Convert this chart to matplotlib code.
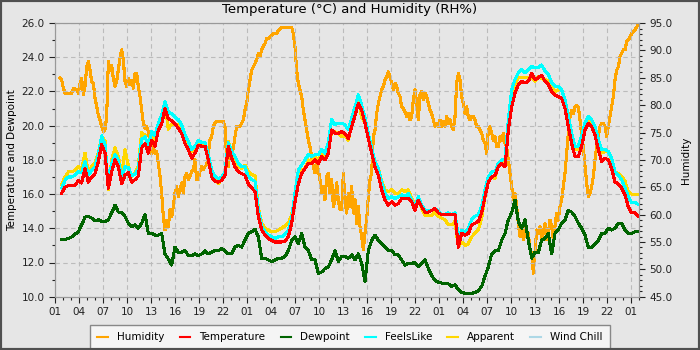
import matplotlib
matplotlib.use("Agg")
import matplotlib.pyplot as plt
import matplotlib.dates as md
from matplotlib.patches import Rectangle
from matplotlib.ticker import MultipleLocator, FormatStrFormatter
import pandas as pd

# humidity is logged every 12.5 min, the temperature family every 25 min
humidity = [
    84.9, 84.6, 83.1, 82.2, 82.2, 82.2, 82.2, 82.2, 83.0, 83.0,
    82.8, 82.2, 84.0, 84.9, 81.9, 83.4, 87.0, 88.0, 86.4, 84.3,
    84.0, 81.3, 79.7, 78.2, 77.3, 76.1, 75.2, 75.5, 77.9, 88.0,
    86.4, 87.3, 84.9, 83.4, 84.3, 86.4, 88.6, 90.1, 88.3, 84.3,
    83.4, 84.9, 83.7, 84.6, 83.1, 85.8, 85.8, 83.4, 81.6, 79.1,
    76.7, 75.8, 76.1, 75.2, 73.0, 71.2, 72.4, 71.2, 71.5, 69.4,
    67.0, 63.9, 59.6, 57.2, 59.0, 57.8, 60.9, 59.6, 61.5, 63.9,
    65.1, 63.3, 64.5, 65.8, 63.9, 67.0, 67.6, 66.4, 67.0, 67.9,
    68.2, 70.0,
    66.4, 66.4, 67.9, 68.8, 68.2, 68.8, 69.1, 71.2, 73.6, 74.3,
    76.1, 76.7, 77.0, 77.0, 77.0, 77.0, 77.0, 76.1, 70.0, 68.8,
    72.4, 71.2, 72.1, 74.3, 76.1, 76.1, 76.1, 76.7, 77.3, 79.1,
    80.3, 82.8, 84.6, 86.4, 87.0, 87.6, 88.3, 89.5, 88.9, 90.1,
    90.7, 91.3, 92.2, 92.2, 92.5, 92.8, 93.1, 93.1, 93.1, 93.7,
    94.0, 94.2, 94.2, 94.2, 94.2, 94.2, 94.2, 94.2, 93.1, 90.7,
    86.4, 84.0, 82.8, 81.6, 79.1, 77.3, 75.5, 73.6, 72.4, 70.6,
    68.8, 67.6, 69.4, 68.2, 66.4, 63.9, 65.1, 62.7, 67.0, 67.6,
    63.9, 66.4, 61.5, 62.7, 65.8, 62.7, 60.9,
    60.9, 67.6, 62.7, 60.3, 63.9, 61.5, 65.1, 60.3, 62.7, 58.4,
    61.5, 57.8, 56.0, 53.6, 56.6, 59.0, 63.3, 66.4, 67.6, 74.3,
    75.5, 78.5, 80.3, 81.6, 82.8, 83.4, 84.6, 85.2, 86.1, 85.2,
    84.0, 82.8, 84.0, 83.4, 82.2, 81.6, 79.7, 79.4, 78.8, 77.9,
    78.5, 77.3, 77.9, 81.0, 82.8, 80.3, 77.3, 81.9, 82.5, 81.0,
    82.2, 81.6, 80.3, 79.1, 78.5, 77.3, 76.1, 76.7, 76.1, 77.3,
    76.1, 77.0, 76.1, 77.9, 76.7, 77.3, 76.1, 75.5, 77.9, 84.0,
    85.8, 84.6, 81.6, 80.3, 78.5, 79.7, 77.9, 77.3, 77.9, 77.9,
    77.3, 76.1, 76.1, 75.5, 74.9, 73.6, 73.0,
    71.2, 75.5, 76.1, 74.9, 73.6, 74.3, 72.4, 72.4, 74.3, 73.6,
    74.9, 73.0, 72.4, 70.0, 67.6, 65.1, 62.7, 63.9, 61.5, 58.4,
    56.0, 57.8, 55.4, 58.4, 56.0, 56.6, 53.6, 53.0, 49.3, 53.0,
    57.2, 56.6, 57.8, 55.4, 56.6, 58.4, 55.4, 56.6, 59.0, 57.8,
    55.4, 57.8, 60.3, 59.0, 61.5, 62.7, 65.1, 67.6, 71.2, 74.9,
    77.9, 79.1, 78.5, 79.7, 80.0, 79.7, 77.3, 74.6, 72.4, 68.8,
    65.8, 63.3, 63.9, 65.1, 67.0, 70.0, 72.4, 74.3, 76.1, 76.7,
    76.7, 76.1, 74.3, 76.1, 77.9, 79.7, 81.6, 84.6, 86.4, 87.0,
    88.9, 89.5, 90.1, 90.1, 91.6, 91.9, 92.5, 93.1, 93.4, 93.7,
    94.3, 94.65,
]

temperature = [
    16.05, 16.4, 16.5, 16.5, 16.5, 16.8, 16.65, 17.5, 16.7, 17.0,
    17.2, 17.9, 18.9, 18.4, 16.35, 17.3, 18.0, 17.6, 16.6, 17.1,
    17.25, 16.7, 16.85, 17.05, 18.7, 18.95, 18.4, 19.15, 18.8, 19.75,
    20.1, 21.0, 20.4, 20.3, 20.1, 19.85, 19.55, 18.95, 18.6, 18.1,
    18.4, 18.85, 18.8, 18.8, 18.0, 17.0, 16.75, 16.7, 16.8, 17.1,
    18.8, 18.1, 17.6, 17.3, 17.2, 17.1, 16.6, 16.35, 16.15, 14.7,
    13.9, 13.6, 13.4, 13.3, 13.2, 13.2, 13.2, 13.25, 13.5, 14.3,
    15.55, 16.6, 17.2, 17.5, 17.8, 17.8, 18.0, 17.8, 18.2, 18.0,
    18.4, 19.75, 19.55, 19.55,
    19.65, 19.55, 19.25, 19.95, 20.6, 21.3, 20.9, 20.15, 19.25, 18.4,
    17.6, 17.1, 16.25, 15.65, 15.35, 15.55, 15.35, 15.45, 15.75, 15.75,
    15.75, 15.55, 15.05, 15.65, 15.25, 14.95, 14.95, 15.05, 15.15, 14.9,
    14.8, 14.8, 14.8, 14.8, 14.8, 12.9, 13.7, 13.6, 13.7, 14.2,
    14.3, 14.4, 14.9, 15.85,
    16.7, 17.0, 17.1, 17.6, 17.8, 17.6, 19.75, 21.1, 21.9, 22.4,
    22.6, 22.5, 22.6, 23.05, 22.7, 22.8, 22.95, 22.6, 22.4, 22.0,
    21.8, 21.7, 21.6, 21.0, 19.95, 18.95, 18.2, 18.2, 18.8, 19.75,
    20.15, 19.95, 19.45, 18.6, 17.9, 18.1, 18.0, 17.5, 16.7, 16.6,
    16.35, 15.95, 15.25, 14.9, 14.9, 14.7,
]

feels_like = [
    16.35, 16.8, 17.0, 17.0, 17.1, 17.3, 17.25, 17.9, 17.1, 17.4,
    17.6, 18.3, 19.4, 18.9, 16.45, 17.8, 18.3, 18.0, 16.9, 17.6,
    17.55, 17.1, 17.15, 17.45, 19.2, 19.35, 18.8, 19.65, 19.4, 20.15,
    20.6, 21.4, 20.8, 20.7, 20.5, 20.35, 20.05, 19.45, 19.1, 18.6,
    18.8, 19.15, 19.0, 19.0, 18.3, 17.4, 17.05, 16.9, 17.0, 17.3,
    19.0, 18.5, 18.2, 17.8, 17.6, 17.6, 17.0, 16.85, 16.75, 15.1,
    14.1, 13.8, 13.6, 13.5, 13.4, 13.5, 13.5, 13.65, 13.9, 14.6,
    16.05, 17.4, 17.7, 18.0, 18.3, 18.2, 18.3, 18.3, 18.6, 18.4,
    19.0, 20.35, 20.05, 20.15,
    20.15, 20.05, 19.75, 20.45, 21.1, 21.8, 21.2, 20.45, 19.55, 18.7,
    17.9, 17.5, 16.65, 16.05, 15.75, 15.85, 15.75, 15.85, 15.95, 15.85,
    16.05, 15.65, 15.25, 15.85, 15.35, 15.05, 15.05, 15.05, 15.15, 15.0,
    14.8, 14.8, 14.9, 14.8, 14.9, 13.4, 13.9, 13.8, 14.0, 14.5,
    14.7, 14.8, 15.3, 16.25,
    17.0, 17.3, 17.3, 17.8, 18.0, 18.0, 20.35, 22.1, 22.7, 23.1,
    23.3, 23.1, 23.3, 23.45, 23.4, 23.4, 23.55, 23.2, 23.0, 22.5,
    22.3, 22.3, 22.1, 21.5, 20.55, 19.55, 18.8, 18.8, 19.4, 20.15,
    20.55, 20.35, 19.95, 19.2, 18.6, 18.6, 18.5, 18.1, 17.3, 17.1,
    16.85, 16.35, 15.85, 15.5, 15.5, 15.4,
]

apparent = [
    16.55, 17.0, 17.3, 17.3, 17.4, 17.6, 17.45, 18.4, 17.3, 17.6,
    17.8, 18.4, 19.4, 19.1, 16.25, 18.0, 18.7, 18.2, 17.1, 18.6,
    17.65, 17.0, 17.25, 17.65, 19.6, 19.45, 18.6, 19.45, 19.1, 20.05,
    20.5, 21.2, 19.8, 20.1, 20.1, 20.05, 19.85, 19.25, 19.0, 18.5,
    18.8, 19.05, 18.9, 18.9, 18.2, 17.3, 16.95, 16.6, 16.9, 17.3,
    19.1, 18.4, 18.0, 17.6, 17.5, 17.7, 17.3, 17.15, 17.05, 15.2,
    14.3, 14.0, 13.9, 13.8, 13.8, 13.9, 14.0, 14.15, 14.3, 14.8,
    15.85, 17.0, 17.4, 17.5, 18.0, 17.9, 18.2, 18.0, 18.4, 18.2,
    18.5, 19.65, 19.65, 19.55,
    19.35, 19.45, 19.15, 20.05, 20.9, 21.5, 20.5, 20.15, 19.35, 18.6,
    17.9, 17.5, 16.75, 16.25, 16.15, 16.25, 16.05, 16.05, 16.25, 16.15,
    16.25, 15.75, 15.35, 15.75, 15.15, 14.75, 14.75, 14.75, 14.95, 14.7,
    14.6, 14.5, 14.2, 14.2, 14.4, 12.9, 13.2, 13.0, 13.1, 13.5,
    13.7, 13.9, 14.6, 15.85,
    16.8, 17.0, 16.9, 17.7, 17.8, 17.9, 20.35, 21.7, 22.4, 22.8,
    22.8, 22.8, 22.8, 22.85, 22.6, 22.9, 22.75, 22.7, 22.6, 22.2,
    22.0, 22.1, 22.1, 21.4, 20.25, 19.25, 18.6, 18.6, 19.2, 20.05,
    20.35, 20.25, 19.75, 19.0, 18.4, 18.5, 18.5, 18.0, 17.3, 17.2,
    17.05, 16.75, 16.15, 16.0, 16.0, 16.0,
]

dewpoint = [
    13.35, 13.35, 13.4, 13.5, 13.65, 13.8, 14.2, 14.65, 14.7, 14.6,
    14.45, 14.5, 14.4, 14.4, 14.5, 14.9, 15.35, 14.95, 14.9, 14.7,
    14.3, 14.1, 14.2, 14.0, 14.3, 14.8, 13.7, 13.7, 13.6, 13.6,
    13.7, 12.5, 12.2, 11.85, 12.9, 12.6, 12.6, 12.7, 12.4, 12.4,
    12.5, 12.4, 12.5, 12.7, 12.5, 12.6, 12.7, 12.7, 12.8, 12.7,
    12.5, 12.5, 12.9, 13.0, 12.9, 13.3, 13.7, 13.8, 13.95, 13.5,
    12.25, 12.25, 12.15, 12.05, 12.15, 12.25, 12.25, 12.35, 12.7, 13.3,
    13.5, 13.1, 13.7, 12.9, 12.7, 12.15, 12.15, 11.35, 11.45, 11.65,
    11.75, 12.15, 12.7, 12.05,
    12.35, 12.35, 12.25, 12.45, 12.15, 12.5, 11.95, 10.9, 12.7, 13.3,
    13.6, 13.3, 13.1, 12.9, 12.7, 12.7, 12.45, 12.45, 12.15, 11.85,
    11.95, 11.95, 12.0, 11.75, 11.95, 12.15, 11.65, 11.25, 10.95, 10.85,
    10.8, 10.75, 10.75, 10.6, 10.7, 10.4, 10.25, 10.2, 10.2, 10.2,
    10.25, 10.35, 10.6, 11.2,
    11.75, 12.5, 12.7, 12.7, 13.3, 13.7, 14.5, 14.9, 15.65, 14.4,
    14.0, 14.5, 13.3, 12.25, 12.6, 12.6, 13.3, 13.4, 13.7, 12.5,
    13.7, 13.9, 14.3, 14.5, 15.05, 14.95, 14.7, 14.3, 14.0, 13.6,
    12.9, 12.9, 13.1, 13.3, 13.7, 13.7, 14.0, 13.9, 14.0, 14.3,
    14.3, 13.9, 13.7, 13.7, 13.8, 13.8,
]

# wind chill only kicks in below 10 C, so it tracks the air temperature here
wind_chill = list(temperature)

hum_time = pd.date_range("2021-06-01 01:37:30", periods=len(humidity), freq="750s")
temp_time = pd.date_range("2021-06-01 01:50:00", periods=len(temperature), freq="1500s")

bg = "#e6e6e6"
fig = plt.figure(figsize=(7, 3.5), dpi=100, facecolor=bg)
ax = fig.add_axes([55 / 700, 1 - 296.7 / 350, 584 / 700, 273.6 / 350])
ax2 = ax.twinx()

# humidity sits underneath the temperature traces
ax.set_zorder(ax2.get_zorder() + 1)
ax.patch.set_visible(False)
ax2.patch.set_visible(True)
ax2.set_facecolor(bg)

lw = 1.5
h_line, = ax2.plot(hum_time, humidity, color="orange", lw=lw, antialiased=False, label="Humidity")
wc_line, = ax.plot(temp_time, wind_chill, color="lightblue", lw=lw, antialiased=False, label="Wind Chill")
ap_line, = ax.plot(temp_time, apparent, color="gold", lw=lw, antialiased=False, label="Apparent")
fl_line, = ax.plot(temp_time, feels_like, color="cyan", lw=lw, antialiased=False, label="FeelsLike")
dp_line, = ax.plot(temp_time, dewpoint, color="darkgreen", lw=lw, antialiased=False, label="Dewpoint")
t_line, = ax.plot(temp_time, temperature, color="red", lw=lw, antialiased=False, label="Temperature")

ax.set_xlim(pd.Timestamp("2021-06-01 01:00"), pd.Timestamp("2021-06-04 02:00"))
ax.set_ylim(10, 26)
ax2.set_ylim(45, 95)

ax.xaxis.set_major_locator(md.HourLocator(byhour=range(1, 24, 3)))
ax.xaxis.set_minor_locator(md.HourLocator())
ax.xaxis.set_major_formatter(md.DateFormatter("%H"))
ax.yaxis.set_major_locator(MultipleLocator(2))
ax.yaxis.set_minor_locator(MultipleLocator(1))
ax.yaxis.set_major_formatter(FormatStrFormatter("%.1f"))
ax2.yaxis.set_major_locator(MultipleLocator(5))
ax2.yaxis.set_minor_locator(MultipleLocator(1))
ax2.yaxis.set_major_formatter(FormatStrFormatter("%.1f"))

fs = 7.5
for a in (ax, ax2):
    a.tick_params(which="major", length=4, width=0.8, labelsize=fs, colors="#222222")
    a.tick_params(which="minor", length=2.5, width=0.8, colors="#222222")
    for s in a.spines.values():
        s.set_color("#999999")

ax.grid(True, which="major", color="#bbbbbb", linestyle=(0, (4, 3)), linewidth=0.8)

ax.set_ylabel("Temperature and Dewpoint", fontsize=fs, labelpad=3)
ax2.set_ylabel("Humidity", fontsize=fs, labelpad=6)
fig.text(0.5, 1 - 10 / 350, "Temperature (\u00b0C) and Humidity (RH%)",
         ha="center", va="center", fontsize=9.5)

fig.legend([h_line, t_line, dp_line, fl_line, ap_line, wc_line],
           ["Humidity", "Temperature", "Dewpoint", "FeelsLike", "Apparent", "Wind Chill"],
           loc="upper center", bbox_to_anchor=(0.5, 1 - 320 / 350), ncol=6, fontsize=fs,
           frameon=True, fancybox=False, edgecolor="#888888", facecolor="#f5f5f5",
           framealpha=1, handlelength=1.0, handletextpad=0.9, columnspacing=1.45,
           borderpad=0.7)

fig.add_artist(Rectangle((0, 0), 1, 1, transform=fig.transFigure, fill=False,
                         edgecolor="#505050", linewidth=3, zorder=10))

fig.savefig("out.png", dpi=100, facecolor=bg)
